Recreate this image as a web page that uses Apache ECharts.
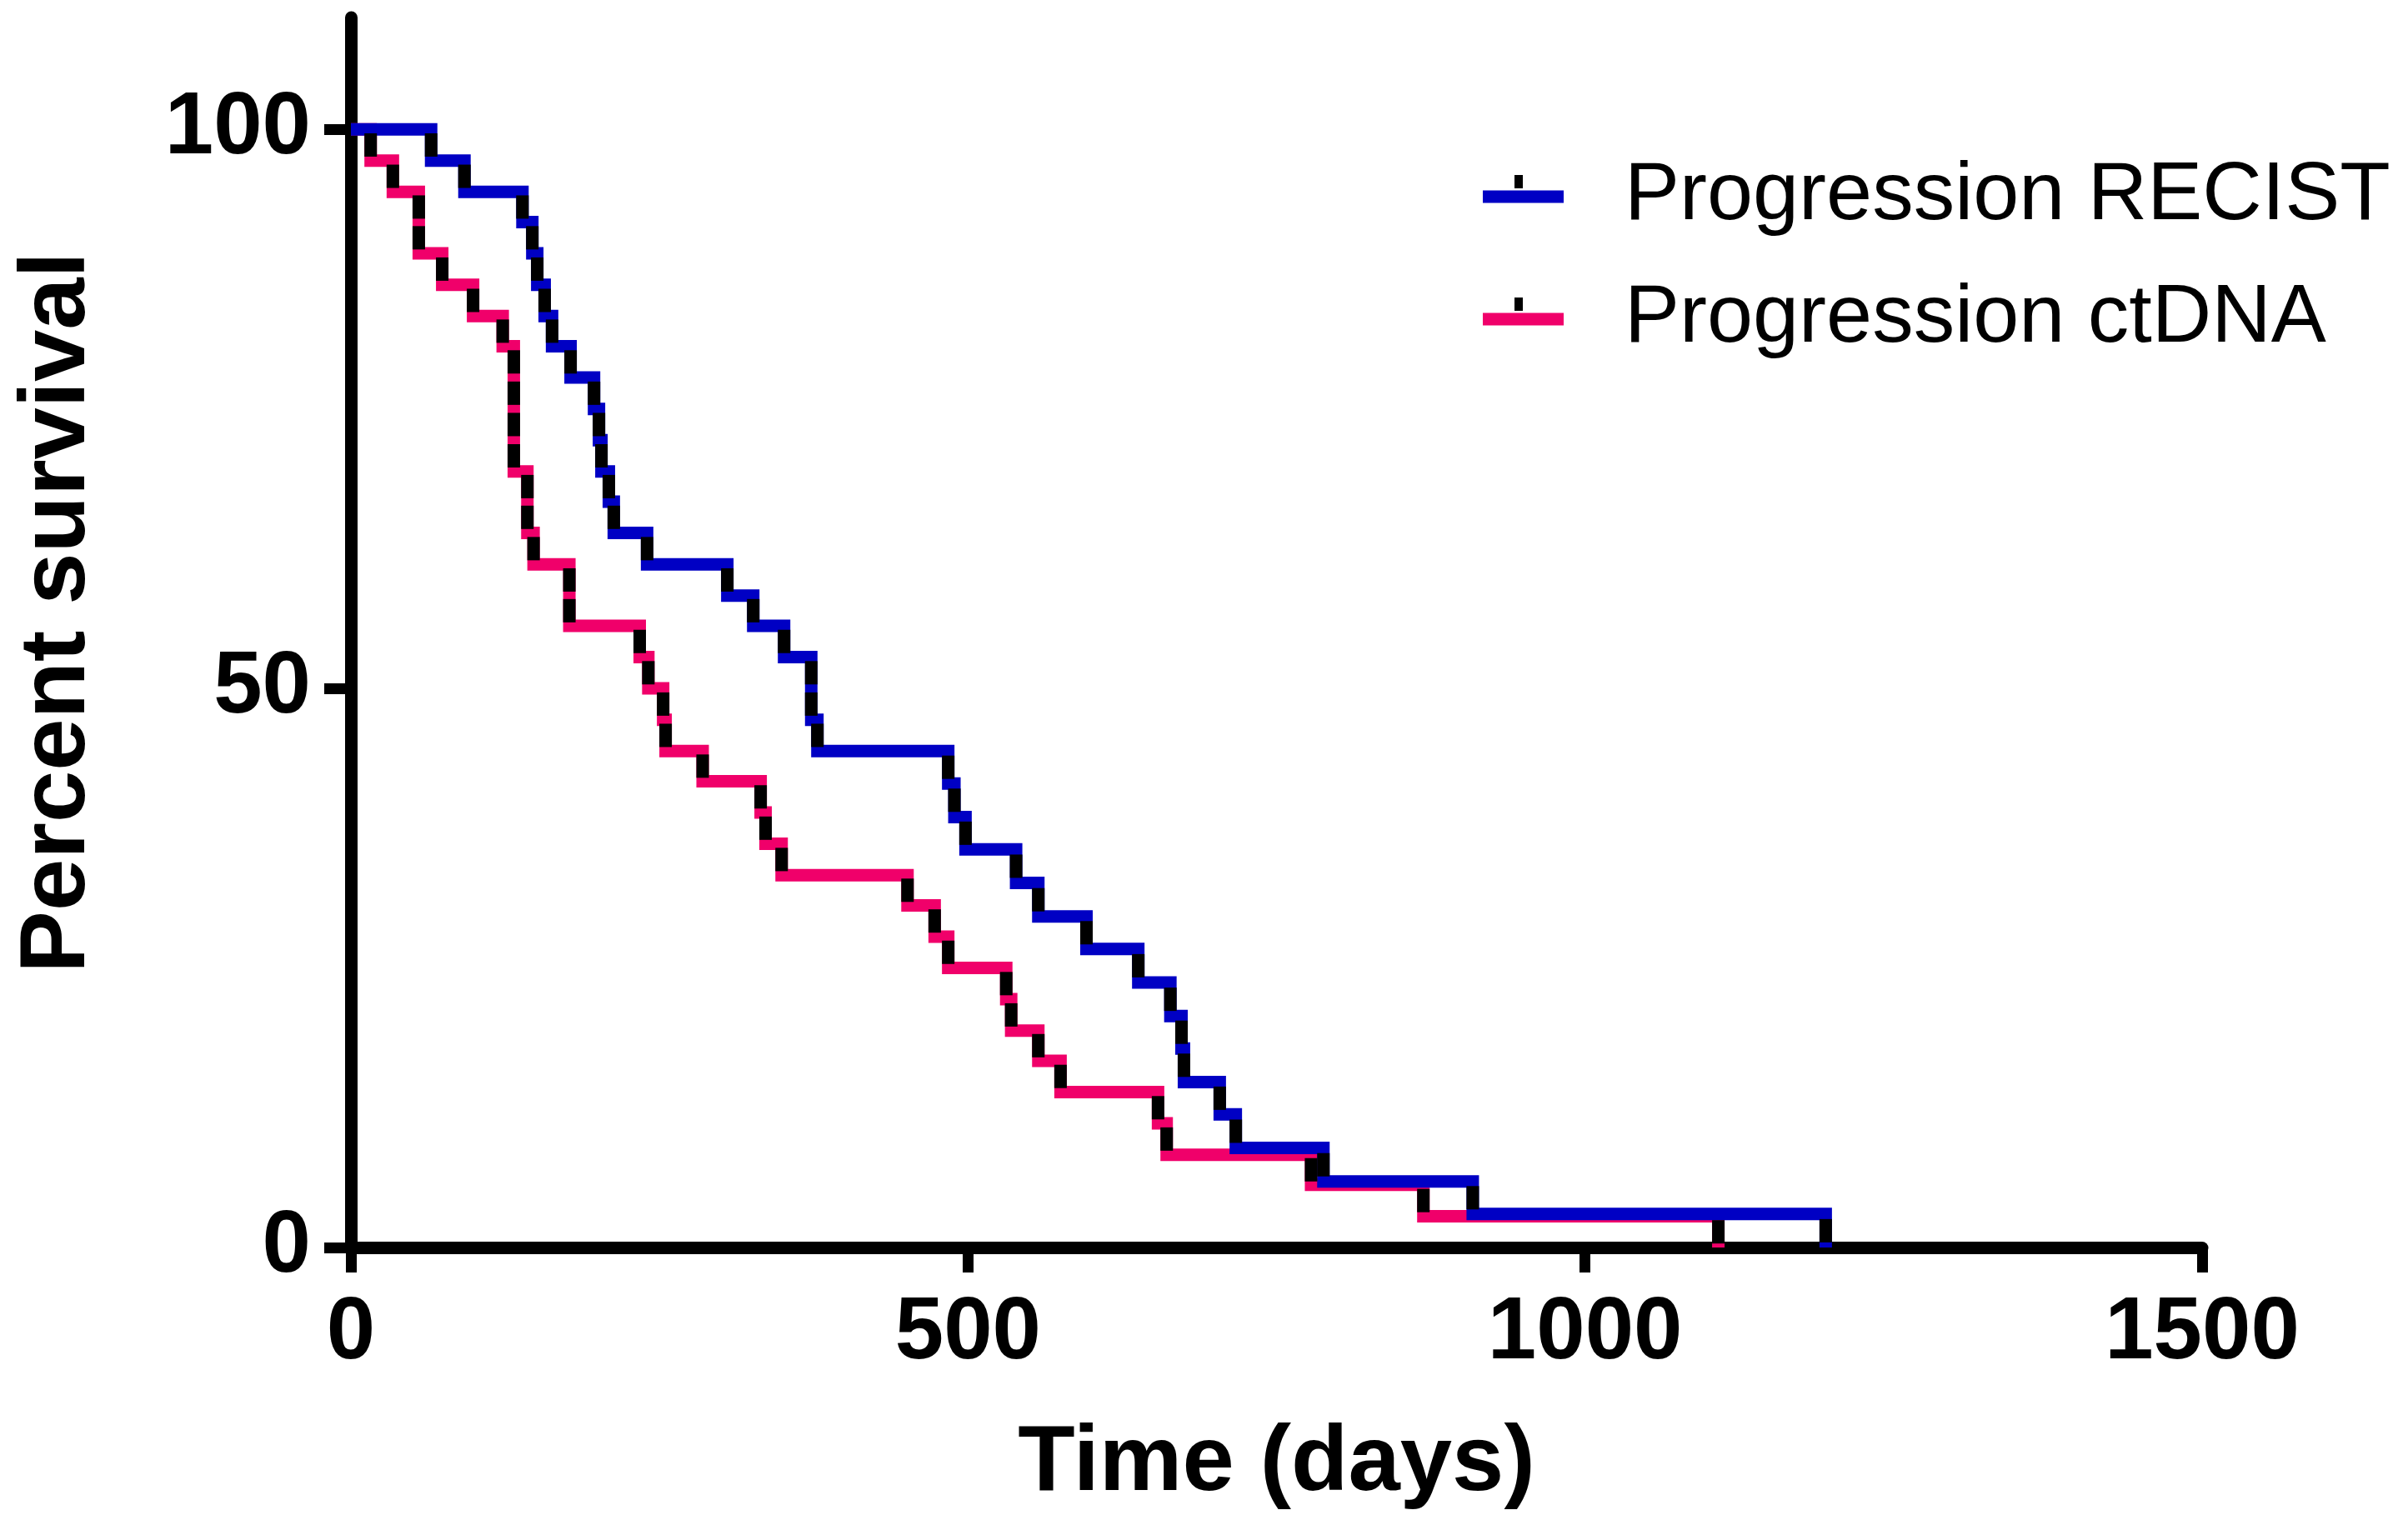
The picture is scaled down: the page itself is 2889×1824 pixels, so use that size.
<!DOCTYPE html>
<html>
<head>
<meta charset="utf-8">
<script src="https://cdn.jsdelivr.net/npm/echarts@6/dist/echarts.min.js"></script>
<style>html,body{margin:0;padding:0;background:#fff}#c{width:2889px;height:1824px}</style>
</head>
<body>
<div id="c"></div>
<script>
// Kaplan-Meier steps: time (days) and percent surviving after each event
const recistTimes = [0, 65, 92, 139, 147, 151, 157, 163, 178, 197, 201, 203, 209, 213, 240, 305, 326, 351, 373, 373,
  378, 484, 489, 498, 539, 557, 596, 638, 664, 673, 675, 704, 717, 788, 909, 1195];
const recistSurvival = [100, 97.2, 94.4, 91.7, 88.9, 86.1, 83.3, 80.6, 77.8, 75.0, 72.2, 69.4, 66.7, 63.9, 61.1, 58.3, 55.6, 52.8, 50.0, 47.2,
  44.4, 41.5, 38.5, 35.6, 32.6, 29.6, 26.7, 23.7, 20.7, 17.8, 14.8, 11.9, 8.9, 5.9, 3.0, 0];
const ctdnaTimes = [0, 16, 34, 55, 55, 74, 99, 123, 132, 132, 132, 132, 143, 143, 148, 177, 177, 234, 241, 253,
  255, 285, 332, 336, 349, 451, 473, 484, 531, 535, 557, 575, 654, 661, 778, 869, 1108];
const ctdnaSurvival = [100, 97.2, 94.4, 91.7, 88.9, 86.1, 83.3, 80.6, 77.8, 75.0, 72.2, 69.4, 66.7, 63.9, 61.1, 58.3, 55.6, 52.8, 50.0, 47.2,
  44.4, 41.7, 38.9, 36.1, 33.3, 30.6, 27.8, 25.0, 22.2, 19.4, 16.7, 13.9, 11.1, 8.3, 5.6, 2.8, 0];
const seriesNames = ['Progression RECIST', 'Progression ctDNA'];
const xTicks = [0, 500, 1000, 1500];
const yTicks = [0, 50, 100];

const BLUE = '#0000C4';
const PINK = '#F0006A';
const FONT = "'Liberation Sans', Arial, sans-serif";

function stepData(times, surv) { return times.map((t, i) => [t, surv[i]]); }
function eventMarks(times, surv) {
  const out = [];
  for (let i = 1; i < times.length; i++) out.push([times[i], (surv[i - 1] + surv[i]) / 2]);
  return out;
}

const chart = echarts.init(document.getElementById('c'), null, { renderer: 'canvas' });
chart.setOption({
  animation: false,
  backgroundColor: '#ffffff',
  grid: { left: 421, right: 247, top: 21, bottom: 327, containLabel: false },
  legend: {
    orient: 'vertical', left: 1774, top: 171,
    itemWidth: 97, itemHeight: 15, itemGap: 27, icon: 'rect',
    selectedMode: false,
    data: seriesNames,
    textStyle: { fontSize: 99, fontFamily: FONT, color: '#000', lineHeight: 120, padding: [0, 0, 0, 68] }
  },
  graphic: [
    { type: 'rect', left: 1817, top: 210, shape: { width: 10, height: 16 }, style: { fill: '#000' }, z: 100 },
    { type: 'rect', left: 1817, top: 357, shape: { width: 10, height: 16 }, style: { fill: '#000' }, z: 100 }
  ],
  xAxis: {
    type: 'value', min: 0, max: 1500, interval: 500,
    name: 'Time (days)', nameLocation: 'middle', nameGap: 204,
    nameTextStyle: { fontSize: 112, fontWeight: 'bold', fontFamily: FONT, color: '#000' },
    axisLine: { show: true, lineStyle: { color: '#000', width: 15 } },
    axisTick: { show: true, length: 30, lineStyle: { color: '#000', width: 13 }, customValues: xTicks },
    axisLabel: { fontSize: 105, fontWeight: 'bold', fontFamily: FONT, color: '#000', margin: 52,
      customValues: xTicks, formatter: v => String(v) },
    splitLine: { show: false }
  },
  yAxis: {
    type: 'value', min: 0, max: 110, interval: 50,
    name: 'Percent survival', nameLocation: 'middle', nameGap: 295,
    nameTextStyle: { fontSize: 112, fontWeight: 'bold', fontFamily: FONT, color: '#000', padding: [0, 0, 0, 48] },
    axisLine: { show: true, lineStyle: { color: '#000', width: 15 } },
    axisTick: { show: true, length: 32, lineStyle: { color: '#000', width: 13 }, customValues: yTicks },
    axisLabel: { fontSize: 105, fontWeight: 'bold', fontFamily: FONT, color: '#000', margin: 48,
      customValues: yTicks, formatter: v => String(v) },
    splitLine: { show: false }
  },
  series: [
    {
      name: seriesNames[1], type: 'line', step: 'end', z: 3,
      data: stepData(ctdnaTimes, ctdnaSurvival),
      showSymbol: false, symbol: 'none',
      itemStyle: { color: PINK },
      lineStyle: { color: PINK, width: 15, join: 'miter' }
    },
    {
      name: seriesNames[0], type: 'line', step: 'end', z: 4,
      data: stepData(recistTimes, recistSurvival),
      showSymbol: false, symbol: 'none',
      itemStyle: { color: BLUE },
      lineStyle: { color: BLUE, width: 15, join: 'miter' }
    },
    {
      name: 'ctDNA events', type: 'scatter', z: 5,
      data: eventMarks(ctdnaTimes, ctdnaSurvival),
      symbol: 'rect', symbolSize: [15, 28],
      itemStyle: { color: '#000', opacity: 1 }, silent: true
    },
    {
      name: 'RECIST events', type: 'scatter', z: 6,
      data: eventMarks(recistTimes, recistSurvival),
      symbol: 'rect', symbolSize: [15, 28],
      itemStyle: { color: '#000', opacity: 1 }, silent: true
    }
  ]
});
</script>
</body>
</html>
